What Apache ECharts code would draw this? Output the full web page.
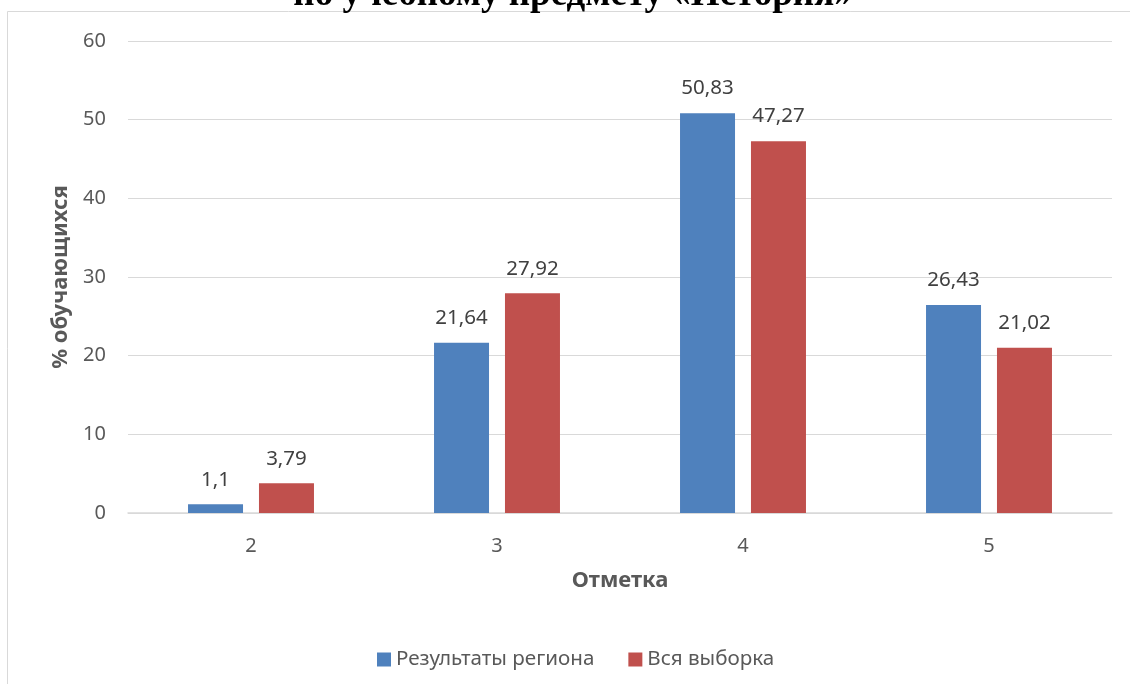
<!DOCTYPE html>
<html>
<head>
<meta charset="utf-8">
<script src="https://cdn.jsdelivr.net/npm/echarts@6/dist/echarts.min.js"></script>
<style>html,body{margin:0;padding:0;background:#fff}#c{width:1130px;height:684px}</style>
</head>
<body>
<div id="c"></div>
<script>
const titleText = 'по учебному предмету «История»';
const categories = ['2', '3', '4', '5'];
const seriesNames = ['Результаты региона', 'Вся выборка'];
const regionValues = [1.1, 21.64, 50.83, 26.43];
const sampleValues = [3.79, 27.92, 47.27, 21.02];
const yTicks = { min: 0, max: 60, interval: 10 };
const xAxisName = 'Отметка';
const yAxisName = '% обучающихся';

const FONT = '"Noto Sans", "Open Sans", sans-serif';
const fmt = p => String(p.value).replace('.', ',');
const labelCfg = {
  show: true, position: 'top', distance: 14, formatter: fmt,
  color: '#404040', fontSize: 20.5, fontFamily: FONT
};

const chart = echarts.init(document.getElementById('c'), null, { renderer: 'canvas' });
chart.setOption({
  animation: false,
  backgroundColor: '#fff',
  graphic: [
    { type: 'rect', z: -10, silent: true,
      shape: { x: 7.5, y: 11.5, width: 1200, height: 800 },
      style: { fill: '#fff', stroke: '#d9d9d9', lineWidth: 1 } },
    { type: 'text', z: 10, silent: true, x: 573, y: 14,
      style: { text: titleText, font: 'bold 37px "Liberation Serif", serif', fill: '#000',
        textAlign: 'center', textVerticalAlign: 'bottom' } }
  ],
  grid: { left: 128, right: 18, top: 41, bottom: 171 },
  legend: {
    data: seriesNames, left: 372, top: 644,
    itemWidth: 14, itemHeight: 14, itemGap: 34,
    icon: 'rect',
    textStyle: { color: '#595959', fontSize: 20.6, fontFamily: FONT }
  },
  xAxis: {
    type: 'category', data: categories,
    name: xAxisName, nameLocation: 'middle', nameGap: 57,
    nameTextStyle: { color: '#595959', fontSize: 22, fontWeight: 'bold', fontFamily: FONT },
    axisLine: { lineStyle: { color: '#d9d9d9', width: 1.5 } },
    axisTick: { show: false },
    axisLabel: { color: '#595959', fontSize: 20, fontFamily: FONT, margin: 23 }
  },
  yAxis: {
    type: 'value', min: yTicks.min, max: yTicks.max, interval: yTicks.interval,
    name: yAxisName, nameLocation: 'middle', nameGap: 56,
    nameTextStyle: { color: '#595959', fontSize: 22, fontWeight: 'bold', fontFamily: FONT },
    axisLine: { show: false }, axisTick: { show: false },
    axisLabel: { color: '#595959', fontSize: 20, fontFamily: FONT, margin: 22 },
    splitLine: { lineStyle: { color: '#d9d9d9', width: 1 } }
  },
  series: [
    { name: seriesNames[0], type: 'bar', data: regionValues, barWidth: 55, barGap: '29%',
      itemStyle: { color: '#4F81BD' }, label: labelCfg },
    { name: seriesNames[1], type: 'bar', data: sampleValues, barWidth: 55,
      itemStyle: { color: '#C0504D' }, label: labelCfg }
  ]
});
</script>
</body>
</html>
